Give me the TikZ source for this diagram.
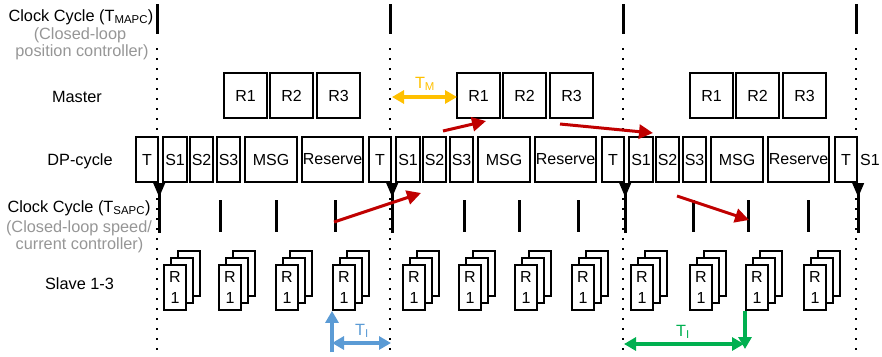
\documentclass[tikz,border=0pt]{standalone}
\usepackage{fontspec}
\setmainfont{Liberation Sans}
\usetikzlibrary{arrows.meta}
\definecolor{dred}{RGB}{192,0,0}
\definecolor{mblue}{RGB}{91,155,213}
\definecolor{mgreen}{RGB}{0,176,80}
\definecolor{morange}{RGB}{255,192,0}
\definecolor{lgray}{RGB}{150,150,150}
\begin{document}
\begin{tikzpicture}[x=1pt,y=-1pt,
  >={Triangle[length=12pt,width=13pt]},
  lbl/.style={font=\fontsize{16.3}{19}\selectfont, inner sep=0pt, anchor=base},
  glbl/.style={lbl, text=lgray},
  box/.style={draw, line width=2.2pt, inner sep=0pt, minimum height=45pt, fill=white, font=\fontsize{16}{18}\selectfont},
  mbox/.style={box, minimum width=43pt},
  page/.style={draw, line width=1.9pt, fill=white, minimum width=22pt, minimum height=45pt, inner sep=0pt, anchor=north west, align=center, font=\fontsize{16}{21}\selectfont},
  tickline/.style={line width=3pt},
  dotline/.style={line width=1.9pt, dash pattern=on 1.9pt off 8.1pt},
  redarrow/.style={dred, line width=3pt, -{Triangle[length=14pt,width=14pt]}},
  colarrow/.style={line width=3.2pt},
]
\useasboundingbox (0,0) rectangle (882,356);

% dotted cycle lines
\foreach \x in {157,390,623,856} {
  \draw[dotline] (\x,48) -- (\x,356);
  \draw[tickline] (\x,4) -- (\x,34);
}

% left labels
\node[lbl] (l1) at (81,21) {Clock Cycle (T\textsubscript{MAPC})};
\node[glbl] (l2) at (80,39) {(Closed-loop};
\node[glbl] (l3) at (82,56) {position controller)};
\node[lbl] (l4) at (77,102) {Master};
\node[lbl] (l5) at (80,165) {DP-cycle};
\node[lbl] (l6) at (79,212) {Clock Cycle (T\textsubscript{SAPC})};
\node[glbl] (l7) at (79,232) {(Closed-loop speed/};
\node[glbl] (l8) at (79.5,249) {current controller)};
\node[lbl] (l9) at (79.5,289) {Slave 1-3};

% master boxes
\foreach \i in {0,1,2} {
  \pgfmathsetmacro\o{157+233*\i}
  \node[mbox, anchor=north west] (m\i r1) at (\o+66,72) {R1};
  \node[mbox, anchor=north west] (m\i r2) at (\o+112,72) {R2};
  \node[mbox, anchor=north west] (m\i r3) at (\o+159,72) {R3};
}

% DP-cycle boxes
\node[box, minimum width=22pt, anchor=west] (t0) at (135,159.5) {T};
\foreach \i in {0,1,2} {
  \pgfmathsetmacro\o{157+233*\i}
  \node[box, minimum width=24pt, anchor=west] (sa\i) at (\o+5,159.5) {S1};
  \node[box, minimum width=23pt, anchor=west] (sb\i) at (\o+32,159.5) {S2};
  \node[box, minimum width=23pt, anchor=west] (sc\i) at (\o+59,159.5) {S3};
  \node[box, minimum width=52pt, anchor=west] (msg\i) at (\o+87,159.5) {MSG};
  \node[box, minimum width=61pt, anchor=west] (res\i) at (\o+144,159.5) {Reserve};
  \node[box, minimum width=22pt, anchor=west] (tt\i) at (\o+211,159.5) {T};
}
\node[font=\fontsize{16}{18}\selectfont, inner sep=0pt] (send) at (870,159.5) {S1};

% triangles and main ticks of TSAPC
\foreach \n in {t0,tt0,tt1,tt2} {
  \fill ([xshift=-6pt]\n.south east) -- ([xshift=6pt]\n.south east) -- ([yshift=-14pt]\n.south east) -- cycle;
  \draw[tickline] (\n.south east) -- ([yshift=-50pt]\n.south east);
}
% sub ticks
\foreach \x [count=\k] in {220,276,335,464,519,578,693,748,808} {
  \coordinate (st\k) at (\x,200);
  \draw[tickline] (st\k) -- (\x,232);
}

% slave stacks
\foreach \x [count=\k] in {163,218,275,332,402,458,514,571,630,689,745,803} {
  \node[page] (p\k c) at (\x+14,250) {};
  \node[page] (p\k b) at (\x+7,257) {};
  \node[page] (p\k) at (\x,264) {R\\1};
}

% orange TM
\coordinate (tmL) at (392,97);
\coordinate (tmR) at (457,97);
\draw[morange, colarrow, <->] (tmL) -- (tmR);
\node[lbl, anchor=center, text=morange] (tm) at (425,84) {T\textsubscript{M}};

% red arrows
\coordinate (r1a) at (334,222); \coordinate (r1b) at (421,193);
\coordinate (r2a) at (443,131); \coordinate (r2b) at (486,121);
\coordinate (r3a) at (560,124); \coordinate (r3b) at (653,133);
\coordinate (r4a) at (677,196); \coordinate (r4b) at (749,220);
\draw[redarrow] (r1a) -- (r1b);
\draw[redarrow] (r2a) -- (r2b);
\draw[redarrow] (r3a) -- (r3b);
\draw[redarrow] (r4a) -- (r4b);

% blue TI
\coordinate (bb) at (332,352);
\coordinate (bl) at (332,343);
\coordinate (br) at (391,343);
\draw[mblue, colarrow, ->] (bb) -- (p4.south west);
\draw[mblue, colarrow, <->] (bl) -- (br);
\node[lbl, anchor=center, text=mblue] (tib) at (362,331) {T\textsubscript{I}};

% green TI
\coordinate (gb) at (745,349);
\coordinate (gl) at (624,344);
\coordinate (gr) at (744,344);
\draw[mgreen, colarrow, ->] (p11.south west) -- (gb);
\draw[mgreen, colarrow, <->] (gl) -- (gr);
\node[lbl, anchor=center, text=mgreen] (tig) at (683,332) {T\textsubscript{I}};
\end{tikzpicture}
\end{document}
